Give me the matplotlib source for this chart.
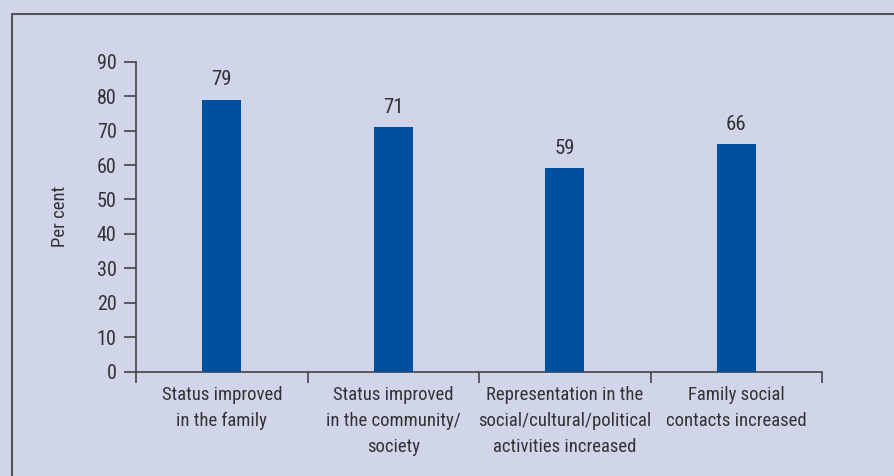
import matplotlib.pyplot as plt
import matplotlib.patches as patches
from matplotlib import font_manager

categories = ['Status improved\nin the family',
              'Status improved\nin the community/\nsociety',
              'Representation in the\nsocial/cultural/political\nactivities increased',
              'Family social\ncontacts increased']
values = [79, 71, 59, 66]
yticks = [0, 10, 20, 30, 40, 50, 60, 70, 80, 90]

# narrow face like the original, first one that is installed
names = {f.name for f in font_manager.fontManager.ttflist}
fam = 'DejaVu Sans'
for n in ['Roboto Condensed', 'Fira Sans Condensed', 'PT Sans Narrow', 'Archivo Narrow',
          'Sofia Sans Condensed', 'Liberation Sans Narrow']:
    if n in names:
        fam = n
        break
plt.rcParams['font.family'] = [fam, 'DejaVu Sans']

bg = '#d0d5ea'
bar_col = '#0050a0'
txt = '#333333'

fig = plt.figure(figsize=(8.95, 4.76), dpi=100, facecolor=bg)
ax = fig.add_axes([136/895, 1 - 371.7/476, (822-136)/895, 310/476])
ax.set_facecolor(bg)

x = list(range(len(values)))
ax.bar(x, values, width=0.227, color=bar_col, zorder=3)
for xi, v in zip(x, values):
    ax.text(xi, v + 3.0, str(v), ha='center', va='bottom', fontsize=15, color=txt)

ax.set_xlim(-0.5, len(values) - 0.5)
ax.set_ylim(0, 90)
ax.set_yticks(yticks)
ax.set_yticklabels([str(t) for t in yticks], fontsize=14.5, color=txt)
ax.set_xticks([i - 0.5 for i in range(len(values) + 1)])
ax.set_xticklabels([])
ax.set_xticks(x, minor=True)
ax.set_xticklabels(categories, minor=True, fontsize=13.5, color=txt, linespacing=1.6, va='top')
ax.tick_params(axis='x', which='minor', length=0, pad=10)
ax.tick_params(axis='x', which='major', length=8, width=1.2, color='#444444', direction='out')
ax.tick_params(axis='y', length=9, width=1.2, color='#444444', pad=5)
for s in ['top', 'right']:
    ax.spines[s].set_visible(False)
for s in ['left', 'bottom']:
    ax.spines[s].set_color('#444444')
    ax.spines[s].set_linewidth(1.2)
ax.set_ylabel('Per cent', fontsize=13.5, color=txt, labelpad=20)

fig.patches.append(patches.Rectangle((12/895, -0.1), 1.0, 1 - 14/476 + 0.1,
                                     transform=fig.transFigure, fill=False,
                                     edgecolor='#555555', linewidth=1.5))

fig.savefig('out.png', dpi=100, facecolor=bg)
